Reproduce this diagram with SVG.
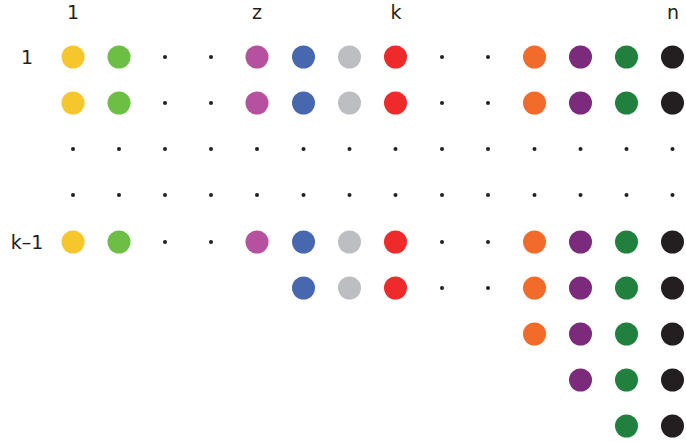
<svg xmlns="http://www.w3.org/2000/svg" width="686" height="442" viewBox="0 0 686 442">
<style>
text{font-family:"DejaVu Sans","Open Sans",sans-serif;font-size:19px;fill:#231f20;text-anchor:middle}
.d{fill:#231f20}
.c0{fill:#f6c72d}.c1{fill:#6dbe45}.c4{fill:#b5519e}.c5{fill:#4767af}.c6{fill:#bdbec1}.c7{fill:#ee2a2a}
.c10{fill:#f26b2b}.c11{fill:#7b2a7c}.c12{fill:#22803f}.c13{fill:#231f20}
</style>
<defs>
<circle id="b" r="11.5"/>
<circle id="s" r="2"/>
</defs>
<rect width="686" height="442" fill="#fff"/>
<g id="labels">
<text x="73" y="19">1</text>
<text x="257" y="19">z</text>
<text x="396" y="19">k</text>
<text x="673" y="19">n</text>
<text x="27" y="64">1</text>
<text x="27" y="249">k–1</text>
</g>
<g id="row1">
<use href="#b" class="c0" x="73" y="57"/><use href="#b" class="c1" x="119" y="57"/>
<use href="#s" class="d" x="165" y="57"/><use href="#s" class="d" x="211" y="57"/>
<use href="#b" class="c4" x="257" y="57"/><use href="#b" class="c5" x="303.5" y="57"/><use href="#b" class="c6" x="349.5" y="57"/><use href="#b" class="c7" x="395.5" y="57"/>
<use href="#s" class="d" x="442" y="57"/><use href="#s" class="d" x="488" y="57"/>
<use href="#b" class="c10" x="534.5" y="57"/><use href="#b" class="c11" x="580.5" y="57"/><use href="#b" class="c12" x="626.5" y="57"/><use href="#b" class="c13" x="672.5" y="57"/>
</g>
<g id="row2">
<use href="#b" class="c0" x="73" y="103"/><use href="#b" class="c1" x="119" y="103"/>
<use href="#s" class="d" x="165" y="103"/><use href="#s" class="d" x="211" y="103"/>
<use href="#b" class="c4" x="257" y="103"/><use href="#b" class="c5" x="303.5" y="103"/><use href="#b" class="c6" x="349.5" y="103"/><use href="#b" class="c7" x="395.5" y="103"/>
<use href="#s" class="d" x="442" y="103"/><use href="#s" class="d" x="488" y="103"/>
<use href="#b" class="c10" x="534.5" y="103"/><use href="#b" class="c11" x="580.5" y="103"/><use href="#b" class="c12" x="626.5" y="103"/><use href="#b" class="c13" x="672.5" y="103"/>
</g>
<g id="row3" class="d">
<use href="#s" x="73" y="149"/><use href="#s" x="119" y="149"/><use href="#s" x="165" y="149"/><use href="#s" x="211" y="149"/><use href="#s" x="257" y="149"/><use href="#s" x="303.5" y="149"/><use href="#s" x="349.5" y="149"/><use href="#s" x="395.5" y="149"/><use href="#s" x="442" y="149"/><use href="#s" x="488" y="149"/><use href="#s" x="534.5" y="149"/><use href="#s" x="580.5" y="149"/><use href="#s" x="626.5" y="149"/><use href="#s" x="672.5" y="149"/>
</g>
<g id="row4" class="d">
<use href="#s" x="73" y="195"/><use href="#s" x="119" y="195"/><use href="#s" x="165" y="195"/><use href="#s" x="211" y="195"/><use href="#s" x="257" y="195"/><use href="#s" x="303.5" y="195"/><use href="#s" x="349.5" y="195"/><use href="#s" x="395.5" y="195"/><use href="#s" x="442" y="195"/><use href="#s" x="488" y="195"/><use href="#s" x="534.5" y="195"/><use href="#s" x="580.5" y="195"/><use href="#s" x="626.5" y="195"/><use href="#s" x="672.5" y="195"/>
</g>
<g id="row5">
<use href="#b" class="c0" x="73" y="242"/><use href="#b" class="c1" x="119" y="242"/>
<use href="#s" class="d" x="165" y="242"/><use href="#s" class="d" x="211" y="242"/>
<use href="#b" class="c4" x="257" y="242"/><use href="#b" class="c5" x="303.5" y="242"/><use href="#b" class="c6" x="349.5" y="242"/><use href="#b" class="c7" x="395.5" y="242"/>
<use href="#s" class="d" x="442" y="242"/><use href="#s" class="d" x="488" y="242"/>
<use href="#b" class="c10" x="534.5" y="242"/><use href="#b" class="c11" x="580.5" y="242"/><use href="#b" class="c12" x="626.5" y="242"/><use href="#b" class="c13" x="672.5" y="242"/>
</g>
<g id="row6">
<use href="#b" class="c5" x="303.5" y="288"/><use href="#b" class="c6" x="349.5" y="288"/><use href="#b" class="c7" x="395.5" y="288"/>
<use href="#s" class="d" x="442" y="288"/><use href="#s" class="d" x="488" y="288"/>
<use href="#b" class="c10" x="534.5" y="288"/><use href="#b" class="c11" x="580.5" y="288"/><use href="#b" class="c12" x="626.5" y="288"/><use href="#b" class="c13" x="672.5" y="288"/>
</g>
<g id="row7">
<use href="#b" class="c10" x="534.5" y="334"/><use href="#b" class="c11" x="580.5" y="334"/><use href="#b" class="c12" x="626.5" y="334"/><use href="#b" class="c13" x="672.5" y="334"/>
</g>
<g id="row8">
<use href="#b" class="c11" x="580.5" y="380"/><use href="#b" class="c12" x="626.5" y="380"/><use href="#b" class="c13" x="672.5" y="380"/>
</g>
<g id="row9">
<use href="#b" class="c12" x="626.5" y="426"/><use href="#b" class="c13" x="672.5" y="426"/>
</g>
<g id="connectors"/>
</svg>
